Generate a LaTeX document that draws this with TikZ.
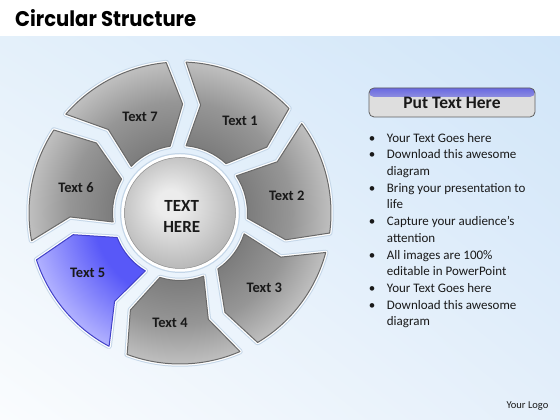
\documentclass[tikz,border=0pt]{standalone}
\usepackage{fontspec}
\setmainfont{Carlito}
\newfontfamily\titlefont{Poppins}
\usetikzlibrary{calc,shadings}
\definecolor{bgUL}{RGB}{228,240,250}
\definecolor{bgUR}{RGB}{208,229,249}
\definecolor{bgLL}{RGB}{250,252,254}
\definecolor{bgLR}{RGB}{228,239,250}
\definecolor{halo}{RGB}{196,214,232}
\definecolor{segline}{RGB}{105,105,105}
\definecolor{segdark}{RGB}{125,125,125}
\definecolor{segmid}{RGB}{150,150,150}
\definecolor{seglight}{RGB}{192,192,192}
\definecolor{bluedark}{RGB}{88,88,248}
\definecolor{bluelight}{RGB}{178,178,255}
\definecolor{blueline}{RGB}{65,65,200}
\definecolor{cenlight}{RGB}{236,236,236}
\definecolor{cendark}{RGB}{178,178,178}
\definecolor{boxgray}{RGB}{222,222,222}
\definecolor{boxblue}{RGB}{105,105,225}
\definecolor{boxline}{RGB}{95,95,95}
\definecolor{txt}{RGB}{25,25,25}
\pgfdeclareradialshading{segrad}{\pgfpoint{0bp}{0bp}}{color(0bp)=(segdark); color(11bp)=(segdark); color(18bp)=(segmid); color(24.5bp)=(seglight); color(50bp)=(seglight)}
\pgfdeclareradialshading{bluerad}{\pgfpoint{0bp}{0bp}}{color(0bp)=(bluedark); color(14bp)=(bluedark); color(24.5bp)=(bluelight); color(50bp)=(bluelight)}
\pgfdeclareradialshading{cenrad}{\pgfpoint{-5bp}{5bp}}{color(0bp)=(cenlight); color(6bp)=(cenlight); color(30bp)=(cendark); color(50bp)=(cendark)}
\tikzset{
  halostroke/.style={draw=halo, line width=5.5pt, line join=round},
  whitestroke/.style={draw=white, line width=3.5pt, line join=round},
  seglabel/.style={font=\fontsize{14.5}{16}\selectfont\bfseries, text=txt, inner sep=0pt},
  bullettext/.style={font=\fontsize{13}{16}\selectfont, text=txt, anchor=base west, inner sep=0pt},
  bulletdot/.style={font=\fontsize{13}{16}\selectfont, text=txt, anchor=base, inner sep=0pt},
  hdrbox/.style={minimum width=166pt, minimum height=29pt, rounded corners=5pt, fill=boxgray, draw=boxline, line width=0.8pt, inner sep=0pt,
    font=\fontsize{17.5}{20}\selectfont\bfseries, text=txt,
    path picture={\shade[top color=boxblue, bottom color=boxgray] (path picture bounding box.north west) rectangle ($(path picture bounding box.north east)+(0,-9pt)$);}}
}
\begin{document}
\begin{tikzpicture}[x=1pt,y=1pt]
\useasboundingbox (0,0) rectangle (560,420);
\fill[white] (0,0) rectangle (560,420);
\shade[upper left=bgUL, upper right=bgUR, lower left=bgLL, lower right=bgLR] (0,0) rectangle (560,383);
\node[anchor=base west, inner sep=0pt] (title) at (15,393) {\resizebox{181pt}{17pt}{\titlefont\bfseries Circular Structure}};
\coordinate (C) at (180,207);
% segments
\foreach \k in {1,...,7}{
  \pgfmathsetmacro\t{91-51.4286*(\k-1)}
  \pgfmathsetmacro\aA{\t-3.3}
  \pgfmathsetmacro\aB{\t-47.2}
  \pgfmathsetmacro\aC{\t-53.8}
  \pgfmathsetmacro\aD{\t-44}
  \pgfmathsetmacro\aE{\t-6.2}
  \pgfmathsetmacro\aF{\t-11.8}
  \def\segpath{($(C)+(\aA:151pt)$) arc[start angle=\aA, end angle=\aB, radius=151pt] -- ($(C)+(\aC:109pt)$) -- ($(C)+(\aD:67.5pt)$) arc[start angle=\aD, end angle=\aE, radius=67.5pt] -- ($(C)+(\aF:110pt)$) -- cycle}
  \ifnum\k=5 \def\shd{bluerad}\def\lc{blueline}\else\def\shd{segrad}\def\lc{segline}\fi
  \path[halostroke] \segpath;
  \path[whitestroke] \segpath;
  \begin{scope}
    \clip \segpath;
    \shade[shading=\shd] (C) circle (155pt);
  \end{scope}
  \draw[draw=\lc, line width=1pt, line join=round] \segpath;
}
% center
\draw[halo, line width=6pt] (C) circle (57pt);
\draw[white, line width=3.5pt] (C) circle (57pt);
\shade[shading=cenrad] (C) circle (55.5pt);
\draw[cendark!80!black, line width=0.5pt] (C) circle (55.5pt);
\node[font=\fontsize{17}{21}\selectfont\bfseries, text=txt, align=center, inner sep=0pt] (center) at (181.7,204) {TEXT\\HERE};
% labels
\node[seglabel] (t1) at (240,299.3) {Text 1};
\node[seglabel] (t2) at (286.7,224) {Text 2};
\node[seglabel] (t3) at (264.3,131.7) {Text 3};
\node[seglabel] (t4) at (170,96.7) {Text 4};
\node[seglabel] (t5) at (87.7,146.7) {Text 5};
\node[seglabel] (t6) at (76,232.3) {Text 6};
\node[seglabel] (t7) at (140,303.3) {Text 7};
% right panel
\node[hdrbox] (hdr) at (452,317.5) {Put Text Here};
\foreach \i/\s/\b in {0/Your Text Goes here/1, 1/Download this awesome/1, 2/diagram/0, 3/Bring your presentation to/1, 4/life/0, 5/Capture your audience’s/1, 6/attention/0, 7/All images are 100\%/1, 8/editable in PowerPoint/0, 9/Your Text Goes here/1, 10/Download this awesome/1, 11/diagram/0}{
  \node[bullettext] (l\i) at (386.7,{277.8-16.7*\i}) {\s};
  \ifnum\b=1 \node[bulletdot] (b\i) at (372,{277.8-16.7*\i}) {•};\fi
}
\node[font=\fontsize{10.5}{12}\selectfont, text=txt, inner sep=0pt] (logo) at (527.5,14) {Your Logo};
\end{tikzpicture}
\end{document}
